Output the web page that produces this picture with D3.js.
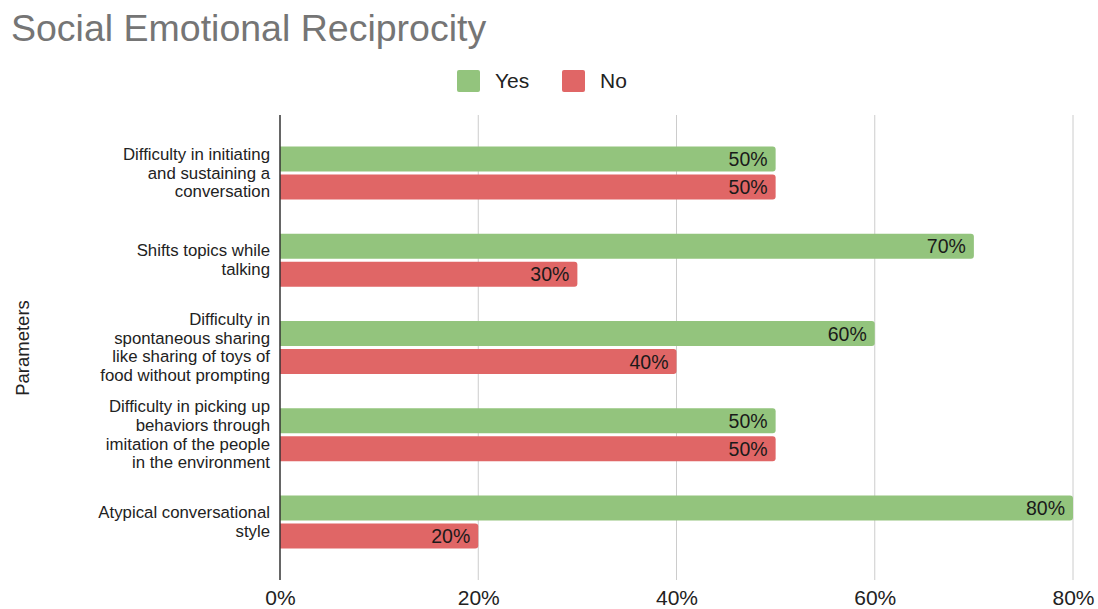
<!DOCTYPE html>
<html>
<head>
<meta charset="utf-8">
<script src="https://cdn.jsdelivr.net/npm/d3@7"></script>
<style>
  html, body { margin: 0; padding: 0; background: #fff; }
  svg { display: block; font-family: "Liberation Sans", Arial, sans-serif; }
</style>
</head>
<body>
<svg id="chart" width="1098" height="609"></svg>
<script>
// Survey parameters (multi-line labels) and the share answering Yes / No
const categories = [
  ["Difficulty in initiating", "and sustaining a", "conversation"],
  ["Shifts topics while", "talking"],
  ["Difficulty in", "spontaneous sharing", "like sharing of toys of", "food without prompting"],
  ["Difficulty in picking up", "behaviors through", "imitation of the people", "in the environment"],
  ["Atypical conversational", "style"]
];
const yesValues = [50, 70, 60, 50, 80];
const noValues = [50, 30, 40, 50, 20];
const seriesNames = ["Yes", "No"];
const seriesColors = ["#93c47d", "#e06666"];
const xTicks = [0, 20, 40, 60, 80];

const svg = d3.select("#chart");

// Title
svg.append("text")
  .attr("x", 11).attr("y", 41)
  .attr("font-size", 37.5).attr("fill", "#757575")
  .text("Social Emotional Reciprocity");

// Legend
const legend = svg.append("g");
const legendX = [457, 562];
seriesNames.forEach((name, i) => {
  const lx = legendX[i];
  legend.append("rect")
    .attr("x", lx).attr("y", 70).attr("width", 23).attr("height", 22)
    .attr("rx", 2).attr("fill", seriesColors[i]);
  legend.append("text")
    .attr("x", lx + 38).attr("y", 88)
    .attr("font-size", 21).attr("fill", "#222")
    .text(name);
});

// Scales
const x = d3.scaleLinear().domain([0, 80]).range([280, 1073]);
const idx = d3.range(categories.length);
const y = d3.scaleBand().domain(idx).range([129.5, 565.5]);
const barH = 25, barGap = 3;

const axisTop = 115, axisBottom = 580;

// Vertical gridlines
svg.append("g").selectAll("line")
  .data(xTicks.filter(t => t > 0))
  .join("line")
  .attr("x1", d => x(d)).attr("x2", d => x(d))
  .attr("y1", axisTop).attr("y2", axisBottom)
  .attr("stroke", "#cccccc").attr("stroke-width", 1);

// Bottom tick labels via d3 axis
const xAxis = svg.append("g")
  .attr("transform", `translate(0,${axisBottom})`)
  .call(d3.axisBottom(x).tickValues(xTicks).tickFormat(d => d + "%").tickSize(0).tickPadding(10));
xAxis.select(".domain").remove();
xAxis.selectAll("text")
  .attr("font-size", 21).attr("fill", "#222")
  .attr("font-family", "Liberation Sans, Arial, sans-serif");

// Bars: right-rounded rectangles
function barPath(x0, x1, y0, h, r) {
  r = Math.min(r, (x1 - x0));
  return `M${x0},${y0}H${x1 - r}Q${x1},${y0} ${x1},${y0 + r}V${y0 + h - r}Q${x1},${y0 + h} ${x1 - r},${y0 + h}H${x0}Z`;
}

const rows = [];
idx.forEach(i => {
  const center = y(i) + y.bandwidth() / 2;
  const top = center - (2 * barH + barGap) / 2;
  rows.push({i, s: 0, v: yesValues[i], y0: top});
  rows.push({i, s: 1, v: noValues[i], y0: top + barH + barGap});
});

svg.append("g").selectAll("path")
  .data(rows)
  .join("path")
  .attr("d", d => barPath(x(0), x(d.v), d.y0, barH, 3))
  .attr("fill", d => seriesColors[d.s]);

// Value labels inside bar ends
svg.append("g").selectAll("text")
  .data(rows)
  .join("text")
  .attr("x", d => x(d.v) - 8)
  .attr("y", d => d.y0 + barH / 2 + 7)
  .attr("text-anchor", "end")
  .attr("font-size", 19.5).attr("fill", "#1a1a1a")
  .text(d => d.v + "%");

// Vertical axis line
svg.append("line")
  .attr("x1", x(0)).attr("x2", x(0))
  .attr("y1", axisTop).attr("y2", axisBottom)
  .attr("stroke", "#333").attr("stroke-width", 1.5);

// Category labels
const lineH = 18.8;
const catG = svg.append("g");
categories.forEach((lines, i) => {
  const center = y(i) + y.bandwidth() / 2;
  const t = catG.append("text")
    .attr("text-anchor", "end")
    .attr("font-size", 16.8).attr("fill", "#222");
  lines.forEach((ln, j) => {
    t.append("tspan")
      .attr("x", 270)
      .attr("y", center + (j - (lines.length - 1) / 2) * lineH + 5.5)
      .text(ln);
  });
});

// Axis title
svg.append("text")
  .attr("transform", "translate(29,348) rotate(-90)")
  .attr("text-anchor", "middle")
  .attr("font-size", 18.5).attr("fill", "#222")
  .text("Parameters");
</script>
</body>
</html>
